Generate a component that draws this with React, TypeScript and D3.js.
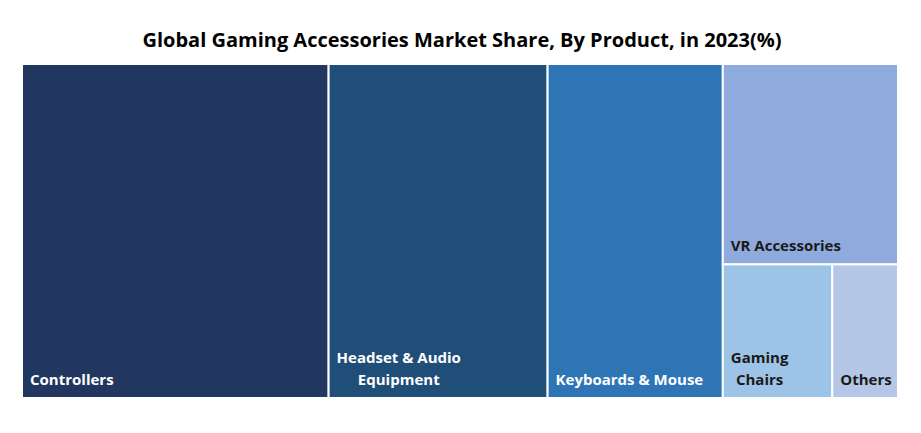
import React from "react";
import * as d3 from "d3";

const categories = ["Controllers", "Headset & Audio Equipment", "Keyboards & Mouse", "VR Accessories", "Gaming Chairs", "Others"];
const shares = [35, 25, 20, 12, 5, 3];
const colors = ["#22375F", "#1F4E79", "#2E75B6", "#8FAADC", "#9DC3E6", "#B4C7E7"];
const labelLines = [["Controllers"], ["Headset & Audio", "Equipment"], ["Keyboards & Mouse"], ["VR Accessories"], ["Gaming", "Chairs"], ["Others"]];
const darkText = [false, false, false, true, true, true];

const W = 921, H = 433;
const X0 = 22, X1 = 898, Y0 = 64, Y1 = 398;

type Node = { name: string; idx?: number; value?: number; children?: Node[] };

const FONT = "'Open Sans', sans-serif";
const LABEL_SIZE = 15;

function measure(text: string, size: number): number {
  const c = document.createElement("canvas").getContext("2d");
  if (!c) return text.length * size * 0.55;
  c.font = `700 ${size}px ${FONT}`;
  return c.measureText(text).width;
}

export default function App() {
  const leaf = (i: number): Node => ({ name: categories[i], idx: i, value: shares[i] });
  const data: Node = {
    name: "root",
    children: [leaf(0), leaf(1), leaf(2), { name: "g1", children: [leaf(3), { name: "g2", children: [leaf(4), leaf(5)] }] }],
  };
  const root = d3.hierarchy<Node>(data).sum((d) => d.value || 0);
  d3.treemap<Node>().tile(d3.treemapSliceDice).size([X1 - X0, Y1 - Y0])(root);
  const leaves = root.leaves() as d3.HierarchyRectangularNode<Node>[];
  return (
    <svg width={W} height={H} style={{ position: "absolute", left: 0, top: 0, background: "#fff" }}>
      <text x={462} y={47} textAnchor="middle" fontFamily={FONT} fontWeight={700} fontSize={20} fill="#000">
        Global Gaming Accessories Market Share, By Product, in 2023(%)
      </text>
      <g transform={`translate(${X0},${Y0})`}>
        {leaves.map((n) => {
          const i = n.data.idx as number;
          const lines = labelLines[i];
          const lh = 22;
          const x = n.x0 + 8;
          const yb = n.y1 - 13;
          const maxW = Math.max(...lines.map((l) => measure(l, LABEL_SIZE)));
          const center = lines.length > 1;
          return (
            <g key={i}>
              <rect x={n.x0} y={n.y0} width={n.x1 - n.x0} height={n.y1 - n.y0} fill={colors[i]} stroke="#fff" strokeWidth={2} />
              <text fontFamily={FONT} fontWeight={700} fontSize={LABEL_SIZE} fill={darkText[i] ? "#1a1a1a" : "#fff"}
                textAnchor={center ? "middle" : "start"}>
                {lines.map((l, k) => (
                  <tspan key={k} x={center ? x + maxW / 2 : x} y={yb - (lines.length - 1 - k) * lh}>{l}</tspan>
                ))}
              </text>
            </g>
          );
        })}
      </g>
    </svg>
  );
}
